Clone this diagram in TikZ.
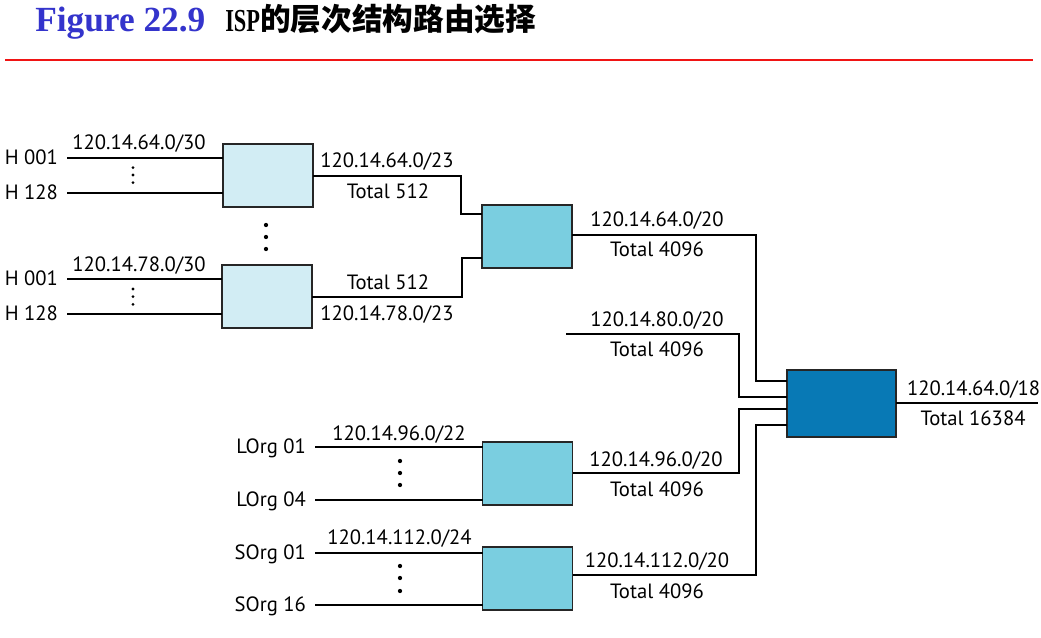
\documentclass[tikz,border=0pt]{standalone}
\usepackage{graphicx}
\usepackage{fontspec}
\setmainfont{Liberation Serif}
\newfontfamily\lblfont{PT Sans}
\newfontfamily\cjk{Noto Sans CJK SC}
\definecolor{titleblue}{RGB}{52,52,204}
\definecolor{titlered}{RGB}{240,20,20}
\definecolor{boxlight}{RGB}{210,237,244}
\definecolor{boxmid}{RGB}{122,206,224}
\definecolor{boxdark}{RGB}{8,121,181}
\tikzset{
  wire/.style={line width=1.9pt, black},
  routerbox/.style={draw=black!85, line width=1.3pt, inner sep=0pt, outer sep=0pt},
  lightbox/.style={routerbox, fill=boxlight, minimum width=67.5pt, minimum height=47.25pt},
  midbox/.style={routerbox, fill=boxmid, minimum width=67.5pt, minimum height=47.25pt},
  darkbox/.style={routerbox, fill=boxdark, minimum width=81.75pt, minimum height=50.25pt},
  lbl/.style={inner sep=0pt, outer sep=0pt, font=\lblfont\fontsize{15.5}{18}\selectfont, text height=10pt, text depth=0pt},
  host/.style={lbl, anchor=east},
}
\begin{document}
\begin{tikzpicture}[x=0.75pt,y=-0.75pt]
\fill[white] (0,0) rectangle (1041,638);
\useasboundingbox (0,0) rectangle (1041,638);

% title
\node[anchor=base west, inner sep=0pt, text=titleblue, font=\bfseries\fontsize{26.5}{30}\selectfont] (title) at (35,32) {Figure 22.9};
\node[anchor=base west, inner sep=0pt, font=\bfseries\fontsize{24}{28}\selectfont] (isp) at (225,32) {\scalebox{0.7}[1]{ISP}};
\node[anchor=base west, inner sep=0pt, font=\cjk\bfseries\fontsize{23}{28}\selectfont] (subtitle) at (260,31) {的层次结构路由选择};
\coordinate (rl) at (5,60);
\coordinate (rr) at (1033,60);
\draw[titlered, line width=1.6pt] (rl) -- (rr);

% boxes
\node[lightbox] (A) at (268,175.5) {};
\node[lightbox] (B) at (267,296.5) {};
\node[midbox] (C) at (527,236.5) {};
\node[midbox] (D) at (527.5,473.5) {};
\node[midbox] (E) at (527.5,578.5) {};
\node[darkbox] (F) at (841.5,403.5) {};

% host labels
\node[host] (h1) at (58,158) {H 001};
\node[host] (h2) at (58,193) {H 128};
\node[host] (h3) at (58,279) {H 001};
\node[host] (h4) at (58,314) {H 128};
\node[host] (l1) at (306,447) {LOrg 01};
\node[host] (l2) at (306,500) {LOrg 04};
\node[host] (s1) at (306,553) {SOrg 01};
\node[host] (s2) at (306,605) {SOrg 16};

\foreach \h/\b in {h1/A, h2/A, h3/B, h4/B, l1/D, l2/D, s1/E, s2/E}
  \draw[wire, shorten <=6.75pt] (\h.east) -- (\h.east -| \b.west);

% small dots
\foreach \y in {167.7,175,182.7,289,296.7,304.3}
  \fill (133,\y) circle[radius=1.15pt];
% big dots
\foreach \y in {225,237,249} \fill (266,\y) circle[radius=1.6pt];
\foreach \y in {461,473,485,566,578,591} \fill (400,\y) circle[radius=1.6pt];

% connectors
\draw[wire] (A.east |- 0,176) -- (461,176) |- (C.west |- 0,214);
\draw[wire] (B.east |- 0,297) -- (462,297) |- (C.west |- 0,258);
\draw[wire] (C.east |- 0,235) -- (756,235) |- (F.west |- 0,381);
\coordinate (x80) at (566,334);
\draw[wire] (x80) -- (739,334) |- (F.west |- 0,397);
\draw[wire] (D.east |- 0,473) -- (739,473) |- (F.west |- 0,409);
\draw[wire] (E.east |- 0,575) -- (756,575) |- (F.west |- 0,425);
\coordinate (out) at (1038,403);
\draw[wire] (F.east |- out) -- (out);

% labels
\node[lbl] (t1) at (139,143) {120.14.64.0/30};
\node[lbl] (t2) at (387,161) {120.14.64.0/23};
\node[lbl] (t3) at (388,192) {Total 512};
\node[lbl] (t4) at (139,265) {120.14.78.0/30};
\node[lbl] (t5) at (388,283) {Total 512};
\node[lbl] (t6) at (387,314) {120.14.78.0/23};
\node[lbl] (t7) at (657,220) {120.14.64.0/20};
\node[lbl] (t8) at (657,250) {Total 4096};
\node[lbl] (t9) at (657,320) {120.14.80.0/20};
\node[lbl] (t10) at (657,350) {Total 4096};
\node[lbl, anchor=west] (t11) at (907,389) {120.14.64.0/18};
\node[lbl] (t12) at (973,419) {Total 16384};
\node[lbl] (t13) at (399,434) {120.14.96.0/22};
\node[lbl] (t14) at (656,460) {120.14.96.0/20};
\node[lbl] (t15) at (657,490) {Total 4096};
\node[lbl] (t16) at (399.5,538) {120.14.112.0/24};
\node[lbl] (t17) at (657,561) {120.14.112.0/20};
\node[lbl] (t18) at (657,592) {Total 4096};
\end{tikzpicture}
\end{document}
